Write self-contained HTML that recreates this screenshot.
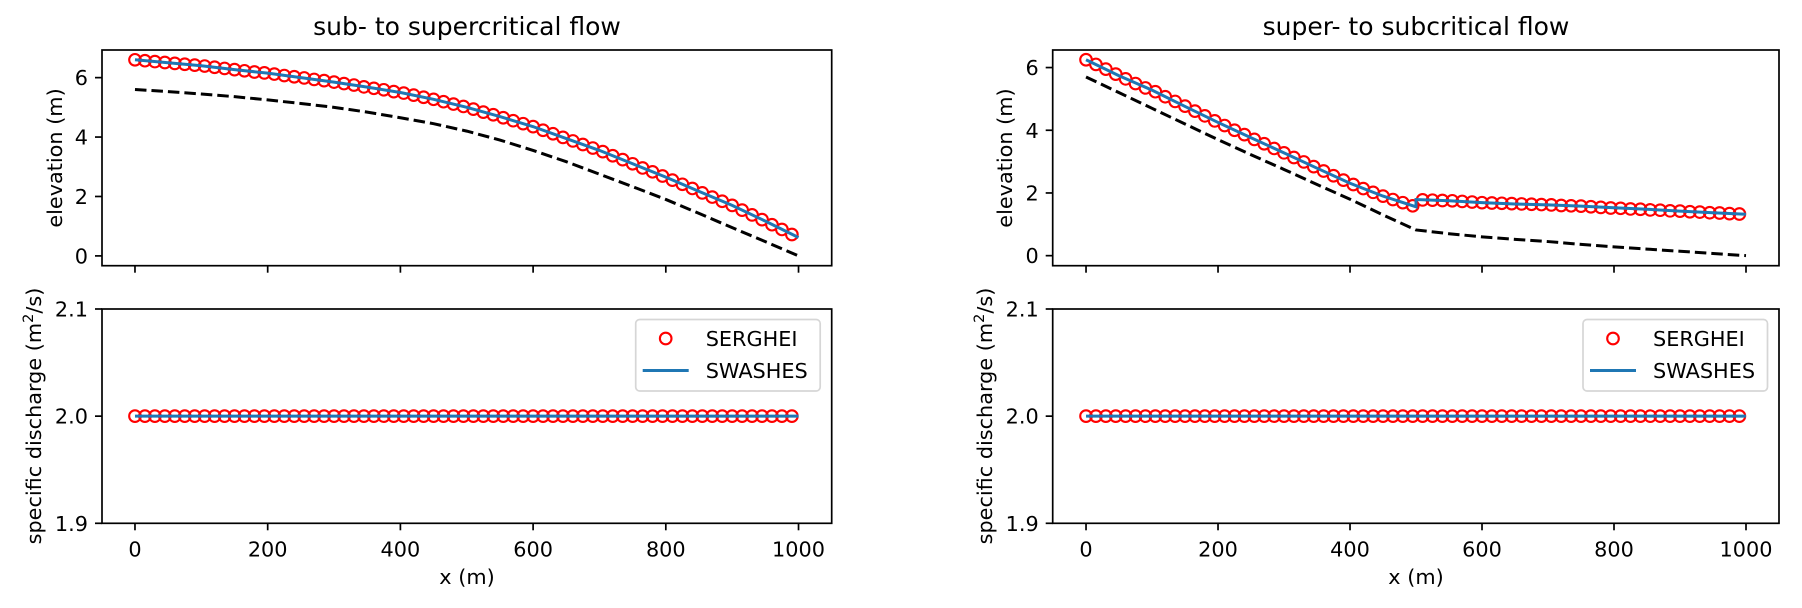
<!DOCTYPE html>
<html><head><meta charset="utf-8"><style>
html,body{margin:0;padding:0;background:#fff;}
svg{display:block;font-family:"DejaVu Sans","Liberation Sans",sans-serif;}
</style></head><body>
<svg id="fig" width="1802" height="608" viewBox="0 0 1802 608" xmlns="http://www.w3.org/2000/svg"></svg>
<script>
// ---- data ----
const markerX = [0,15,30,45,60,75,90,105,120,135,150,165,180,195,210,225,240,255,270,285,300,315,330,345,360,375,390,405,420,435,450,465,480,495,510,525,540,555,570,585,600,615,630,645,660,675,690,705,720,735,750,765,780,795,810,825,840,855,870,885,900,915,930,945,960,975,990];
const sergheiSubSuper = [6.60,6.57,6.54,6.51,6.48,6.45,6.42,6.39,6.35,6.31,6.27,6.23,6.19,6.16,6.12,6.07,6.03,5.99,5.94,5.90,5.85,5.80,5.75,5.69,5.64,5.59,5.53,5.48,5.41,5.34,5.27,5.19,5.11,5.03,4.94,4.84,4.75,4.65,4.55,4.45,4.35,4.23,4.11,3.99,3.87,3.75,3.63,3.51,3.37,3.24,3.10,2.96,2.83,2.69,2.55,2.41,2.27,2.12,1.98,1.84,1.70,1.54,1.38,1.22,1.05,0.89,0.72];
const sergheiSuperSub = [6.25,6.10,5.95,5.79,5.64,5.49,5.35,5.23,5.07,4.92,4.77,4.61,4.46,4.30,4.15,4.00,3.86,3.71,3.57,3.42,3.28,3.13,2.99,2.84,2.70,2.55,2.41,2.27,2.14,2.02,1.90,1.79,1.69,1.59,1.78,1.77,1.76,1.75,1.73,1.71,1.69,1.68,1.67,1.66,1.65,1.64,1.63,1.62,1.60,1.59,1.58,1.56,1.54,1.52,1.51,1.49,1.48,1.46,1.45,1.43,1.42,1.40,1.39,1.37,1.36,1.34,1.33];
const qSergheiSubSuper = [2.0,2.0,2.0,2.0,2.0,2.0,2.0,2.0,2.0,2.0,2.0,2.0,2.0,2.0,2.0,2.0,2.0,2.0,2.0,2.0,2.0,2.0,2.0,2.0,2.0,2.0,2.0,2.0,2.0,2.0,2.0,2.0,2.0,2.0,2.0,2.0,2.0,2.0,2.0,2.0,2.0,2.0,2.0,2.0,2.0,2.0,2.0,2.0,2.0,2.0,2.0,2.0,2.0,2.0,2.0,2.0,2.0,2.0,2.0,2.0,2.0,2.0,2.0,2.0,2.0,2.0,2.0];
const qSergheiSuperSub = [2.0,2.0,2.0,2.0,2.0,2.0,2.0,2.0,2.0,2.0,2.0,2.0,2.0,2.0,2.0,2.0,2.0,2.0,2.0,2.0,2.0,2.0,2.0,2.0,2.0,2.0,2.0,2.0,2.0,2.0,2.0,2.0,2.0,2.0,2.0,2.0,2.0,2.0,2.0,2.0,2.0,2.0,2.0,2.0,2.0,2.0,2.0,2.0,2.0,2.0,2.0,2.0,2.0,2.0,2.0,2.0,2.0,2.0,2.0,2.0,2.0,2.0,2.0,2.0,2.0,2.0,2.0];
const refX = [0,50,100,150,200,250,300,350,400,450,500,550,600,650,700,750,800,850,900,950,1000];
const swashesSubSuper = [6.6,6.5,6.4,6.27,6.15,6.0,5.85,5.68,5.5,5.27,5.0,4.69,4.35,3.95,3.55,3.1,2.65,2.17,1.7,1.17,0.62];
const bedSubSuper = [5.6,5.53,5.45,5.36,5.25,5.13,5.0,4.84,4.65,4.45,4.2,3.9,3.55,3.17,2.75,2.33,1.9,1.43,0.95,0.48,0.0];
const swashesJumpX = [0,50,100,150,200,250,300,350,400,450,500,500,550,600,650,700,750,800,850,900,950,1000];
const swashesSuperSub = [6.25,5.74,5.28,4.76,4.25,3.76,3.28,2.79,2.31,1.90,1.56,1.79,1.75,1.69,1.65,1.62,1.58,1.53,1.48,1.42,1.37,1.32];
const bedSuperSub = [5.7,5.2,4.7,4.2,3.7,3.22,2.75,2.27,1.8,1.3,0.82,0.7,0.6,0.52,0.45,0.36,0.28,0.21,0.14,0.07,0.0];
const qRefX = [0,1000];
const qSwashes = [2.0,2.0];
const xTicks = [0,200,400,600,800,1000];
const elevTicks = [0,2,4,6];
const qTicks = [1.9,2.0,2.1];
const qTickLabels = ["1.9","2.0","2.1"];

const NS = "http://www.w3.org/2000/svg";
const svg = document.getElementById('fig');
function mk(tag, attrs, parent){
  const e = document.createElementNS(NS, tag);
  for (const k in attrs) e.setAttribute(k, attrs[k]);
  (parent||svg).appendChild(e);
  return e;
}
function axes(L, R, T, B, xmin, xmax, ymin, ymax, name){
  const g = mk('g', {});
  
  
  return {L,R,T,B,g,
    x: v => L + (v - xmin) / (xmax - xmin) * (R - L),
    y: v => B - (v - ymin) / (ymax - ymin) * (B - T)};
}
function frame(a){
  const r = mk('rect', {x:a.L, y:a.T, width:a.R-a.L, height:a.B-a.T, fill:'none', stroke:'#000', 'stroke-width':1.7}, a.g);
  
  
}
function xAxis(a, labels){
  xTicks.forEach(t => {
    const X = a.x(t);
    mk('line', {x1:X, x2:X, y1:a.B, y2:a.B+7, stroke:'#000', 'stroke-width':1.7}, a.g);
    if (labels){
      const tx = mk('text', {x:X, y:a.B+33, 'font-size':20.8, 'text-anchor':'middle'}, a.g);
      tx.textContent = t;
      
      
    }
  });
}
function yAxis(a, ticks, labels){
  ticks.forEach((t,i) => {
    const Y = a.y(t);
    mk('line', {x1:a.L-7, x2:a.L, y1:Y, y2:Y, stroke:'#000', 'stroke-width':1.7}, a.g);
    const tx = mk('text', {x:a.L-14, y:Y+7.5, 'font-size':20.8, 'text-anchor':'end'}, a.g);
    tx.textContent = labels[i];
    
    
  });
}
function line(a, xs, ys, attrs, name){
  const d = xs.map((v,i) => (i?'L':'M') + a.x(v).toFixed(2) + ',' + a.y(ys[i]).toFixed(2)).join(' ');
  const p = mk('path', Object.assign({d, fill:'none'}, attrs), a.g);
  
  
}
function markers(a, xs, ys){
  xs.forEach((v,i) => {
    const c = mk('circle', {cx:a.x(v), cy:a.y(ys[i]), r:5.8, fill:'none', stroke:'#ff0000', 'stroke-width':2.1}, a.g);
    
    
  });
}
function text(x, y, s, size, name, rot, anchor){
  const t = mk('text', {x, y, 'font-size':size, 'text-anchor':anchor||'middle'});
  if (rot) t.setAttribute('transform', `rotate(-90 ${x} ${y})`);
  t.textContent = s;
  
  
  return t;
}
function legend(a){
  const g = mk('g', {}, a.g);
  
  
  const R = a.R - 11.5, L = R - 184.5, T = a.T + 10.5;
  mk('rect', {x:L, y:T, width:R-L, height:71.5, rx:4, fill:'#fff', 'fill-opacity':0.8, stroke:'#d6d6d6', 'stroke-width':1.7}, g);
  const m = mk('circle', {cx:L+30, cy:T+19, r:5.8, fill:'none', stroke:'#ff0000', 'stroke-width':2.1}, g);
  
  
  const l = mk('line', {x1:L+7, x2:L+53, y1:T+51, y2:T+51, stroke:'#1f77b4', 'stroke-width':3}, g);
  
  
  const t1 = mk('text', {x:L+70, y:T+26.5, 'font-size':20.8}, g);
  t1.textContent = 'SERGHEI';
  
  
  const t2 = mk('text', {x:L+70, y:T+58.5, 'font-size':20.8}, g);
  t2.textContent = 'SWASHES';
  
  
}
const blue = {stroke:'#1f77b4', 'stroke-width':3};
const dash = {stroke:'#000', 'stroke-width':3, 'stroke-dasharray':'11.5,5'};

// left top
const a1 = axes(102, 831.7, 50, 265.7, -49.7, 1050, -0.33, 6.93, 'elevation-plot-sub-to-super');
line(a1, refX, bedSubSuper, dash, 'bed-line');
markers(a1, markerX, sergheiSubSuper);
line(a1, refX, swashesSubSuper, blue, 'swashes-line');
frame(a1); xAxis(a1, false); yAxis(a1, elevTicks, elevTicks.map(String));
// left bottom
const a2 = axes(102, 831.7, 309, 523.3, -49.7, 1050, 1.9, 2.1, 'discharge-plot-sub-to-super');
markers(a2, markerX, qSergheiSubSuper);
line(a2, qRefX, qSwashes, blue, 'swashes-discharge-line');
frame(a2); xAxis(a2, true); yAxis(a2, qTicks, qTickLabels); legend(a2);
// right top
const a3 = axes(1052.7, 1779, 50, 265.7, -50.5, 1050, -0.32, 6.56, 'elevation-plot-super-to-sub');
line(a3, refX, bedSuperSub, dash, 'bed-line');
markers(a3, markerX, sergheiSuperSub);
line(a3, swashesJumpX, swashesSuperSub, blue, 'swashes-line');
frame(a3); xAxis(a3, false); yAxis(a3, elevTicks, elevTicks.map(String));
// right bottom
const a4 = axes(1052.7, 1779, 309, 523.3, -50.5, 1050, 1.9, 2.1, 'discharge-plot-super-to-sub');
markers(a4, markerX, qSergheiSuperSub);
line(a4, qRefX, qSwashes, blue, 'swashes-discharge-line');
frame(a4); xAxis(a4, true); yAxis(a4, qTicks, qTickLabels); legend(a4);

// titles & labels
text(467, 35, 'sub- to supercritical flow', 25, 'title-left');
text(1416, 35, 'super- to subcritical flow', 25, 'title-right');
text(62, 158, 'elevation (m)', 20.8, 'y-axis-title-elevation-left', true);
text(1012, 158, 'elevation (m)', 20.8, 'y-axis-title-elevation-right', true);
const q1 = text(41, 416, '', 20.8, 'y-axis-title-discharge-left', true);
const q2 = text(992, 416, '', 20.8, 'y-axis-title-discharge-right', true);
[q1,q2].forEach(q => {
  q.appendChild(document.createTextNode('specific discharge (m'));
  const s = document.createElementNS(NS,'tspan');
  s.setAttribute('font-size','14.5'); s.setAttribute('dy','-8');
  s.textContent = '2';
  q.appendChild(s);
  const s2 = document.createElementNS(NS,'tspan');
  s2.setAttribute('dy','8');
  s2.textContent = '/s)';
  q.appendChild(s2);
});
text(467, 584, 'x (m)', 20.8, 'x-axis-title-left');
text(1416, 584, 'x (m)', 20.8, 'x-axis-title-right');
</script>
</body></html>
